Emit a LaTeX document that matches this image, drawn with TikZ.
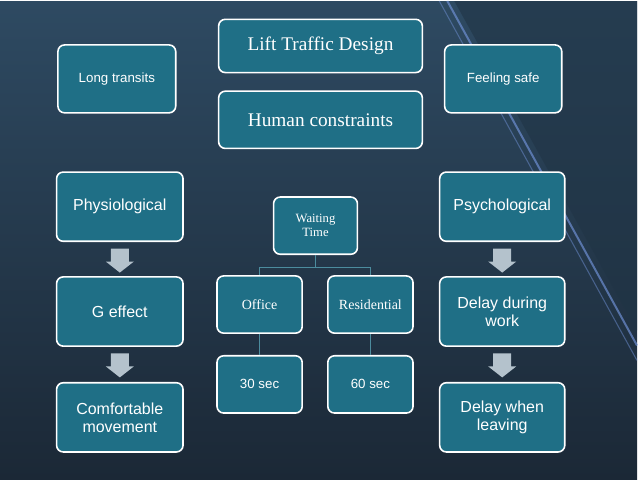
\documentclass[tikz,border=0pt]{standalone}
\usepackage{fontspec}
\setmainfont{Liberation Serif}
\newfontfamily\arialfont{Liberation Sans}
\definecolor{boxfill}{HTML}{1F6F86}
\definecolor{bgdark}{HTML}{1B2836}
\definecolor{bglight}{HTML}{2E4A62}
\definecolor{arrowgrey}{HTML}{B4C2CC}
\tikzset{
  card/.style={draw=white, line width=1.2pt, fill=boxfill, rounded corners=5pt,
    text=white, align=center, inner sep=2pt},
  sanscard/.style={card, font=\arialfont\fontsize{10}{11}\selectfont},
  bigcard/.style={card, font=\arialfont\fontsize{12}{13.5}\selectfont},
  link/.style={draw=boxfill!80!white, line width=0.8pt}
}
\newcommand\blockarrow[1]{%
  \fill[arrowgrey] ([shift={(-9,-11)}]#1) -- ([shift={(9,-11)}]#1) -- ([shift={(9,2)}]#1)
    -- ([shift={(14,2)}]#1) -- ([shift={(0,13)}]#1) -- ([shift={(-14,2)}]#1)
    -- ([shift={(-9,2)}]#1) -- cycle;}
\begin{document}
\begin{tikzpicture}[x=0.75pt,y=-0.75pt]
  % Background
  \shade[top color=bglight, bottom color=bgdark] (0,0) rectangle (638,479);
  \fill[bglight!70!black, opacity=0.6] (455,0) -- (638,0) -- (638,330) -- cycle;
  \draw[cyan!40!blue!60!white, line width=1.5pt, opacity=0.7] (448,0) -- (638,345);
  \draw[cyan!40!blue!60!white, line width=0.8pt, opacity=0.5] (440,0) -- (638,360);
  \useasboundingbox (0,0) rectangle (638,479);

  % Top row
  \node[sanscard, minimum width=88.5pt, minimum height=51pt] (transits) at (117,78) {Long transits};
  \node[card, font=\fontsize{14.5}{16}\selectfont, minimum width=153pt, minimum height=40pt] (lift) at (321,45) {Lift Traffic Design};
  \node[card, font=\fontsize{14.5}{16}\selectfont, minimum width=153pt, minimum height=43pt] (human) at (321,119) {Human constraints};
  \node[sanscard, minimum width=88pt, minimum height=51pt] (safe) at (504,78) {Feeling safe};

  % Left column
  \node[bigcard, minimum width=95pt, minimum height=52pt] (physio) at (120,206) {Physiological};
  \node[bigcard, minimum width=95pt, minimum height=52pt] (geff) at (120,311) {G effect};
  \node[bigcard, minimum width=95pt, minimum height=52pt] (comfort) at (120,417) {Comfortable\\movement};

  % Middle tree
  \node[card, font=\fontsize{9.5}{10.5}\selectfont, minimum width=63pt, minimum height=43pt] (waiting) at (316,225) {Waiting\\Time};
  \node[card, font=\fontsize{10.5}{11}\selectfont, minimum width=64pt, minimum height=43pt] (office) at (260,304) {Office};
  \node[card, font=\fontsize{10.5}{11}\selectfont, minimum width=64pt, minimum height=43pt] (resid) at (371,304) {Residential};
  \node[sanscard, minimum width=64pt, minimum height=43pt] (thirty) at (260,384) {30 sec};
  \node[sanscard, minimum width=64pt, minimum height=43pt] (sixty) at (371,384) {60 sec};

  % Right column
  \node[bigcard, minimum width=94pt, minimum height=52pt] (psycho) at (503,206) {Psychological};
  \node[bigcard, minimum width=94pt, minimum height=52pt] (dwork) at (503,311) {Delay during\\work};
  \node[bigcard, minimum width=94pt, minimum height=52pt] (dleave) at (503,417) {Delay when\\leaving};

  % Tree links
  \draw[link] (waiting.south) -- ++(0,12) -| (office.north);
  \draw[link] (waiting.south) -- ++(0,12) -| (resid.north);
  \draw[link] (office) -- (thirty);
  \draw[link] (resid) -- (sixty);

  % Block arrows
  \coordinate (a1) at (120,259);
  \coordinate (a2) at (120,364);
  \coordinate (a3) at (503,259);
  \coordinate (a4) at (503,364);
  \blockarrow{a1}
  \blockarrow{a2}
  \blockarrow{a3}
  \blockarrow{a4}
\end{tikzpicture}
\end{document}
